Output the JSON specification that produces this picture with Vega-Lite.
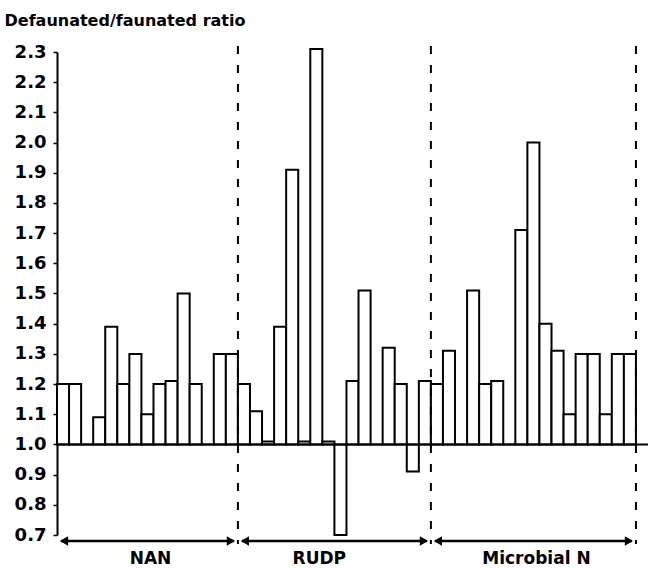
{
  "$schema": "https://vega.github.io/schema/vega-lite/v6.json",
  "width": 591,
  "height": 483,
  "autosize": {"type": "none"},
  "padding": {"left": 57, "top": 52, "right": 0, "bottom": 35},
  "background": "white",
  "config": {"view": {"stroke": null}, "font": "DejaVu Sans", "axisY": {"labelOverlap": false, "tickCount": 17}},
  "datasets": {
    "bars": [
      {"slot": 1, "group": "NAN", "ratio": 1.2},
      {"slot": 2, "group": "NAN", "ratio": 1.2},
      {"slot": 3, "group": "NAN", "ratio": 1.0},
      {"slot": 4, "group": "NAN", "ratio": 1.09},
      {"slot": 5, "group": "NAN", "ratio": 1.39},
      {"slot": 6, "group": "NAN", "ratio": 1.2},
      {"slot": 7, "group": "NAN", "ratio": 1.3},
      {"slot": 8, "group": "NAN", "ratio": 1.1},
      {"slot": 9, "group": "NAN", "ratio": 1.2},
      {"slot": 10, "group": "NAN", "ratio": 1.21},
      {"slot": 11, "group": "NAN", "ratio": 1.5},
      {"slot": 12, "group": "NAN", "ratio": 1.2},
      {"slot": 13, "group": "NAN", "ratio": 1.0},
      {"slot": 14, "group": "NAN", "ratio": 1.3},
      {"slot": 15, "group": "NAN", "ratio": 1.3},
      {"slot": 16, "group": "RUDP", "ratio": 1.2},
      {"slot": 17, "group": "RUDP", "ratio": 1.11},
      {"slot": 18, "group": "RUDP", "ratio": 1.01},
      {"slot": 19, "group": "RUDP", "ratio": 1.39},
      {"slot": 20, "group": "RUDP", "ratio": 1.91},
      {"slot": 21, "group": "RUDP", "ratio": 1.01},
      {"slot": 22, "group": "RUDP", "ratio": 2.31},
      {"slot": 23, "group": "RUDP", "ratio": 1.01},
      {"slot": 24, "group": "RUDP", "ratio": 0.7},
      {"slot": 25, "group": "RUDP", "ratio": 1.21},
      {"slot": 26, "group": "RUDP", "ratio": 1.51},
      {"slot": 27, "group": "RUDP", "ratio": 1.0},
      {"slot": 28, "group": "RUDP", "ratio": 1.32},
      {"slot": 29, "group": "RUDP", "ratio": 1.2},
      {"slot": 30, "group": "RUDP", "ratio": 0.91},
      {"slot": 31, "group": "RUDP", "ratio": 1.21},
      {"slot": 32, "group": "Microbial N", "ratio": 1.2},
      {"slot": 33, "group": "Microbial N", "ratio": 1.31},
      {"slot": 34, "group": "Microbial N", "ratio": 1.0},
      {"slot": 35, "group": "Microbial N", "ratio": 1.51},
      {"slot": 36, "group": "Microbial N", "ratio": 1.2},
      {"slot": 37, "group": "Microbial N", "ratio": 1.21},
      {"slot": 38, "group": "Microbial N", "ratio": 1.0},
      {"slot": 39, "group": "Microbial N", "ratio": 1.71},
      {"slot": 40, "group": "Microbial N", "ratio": 2.0},
      {"slot": 41, "group": "Microbial N", "ratio": 1.4},
      {"slot": 42, "group": "Microbial N", "ratio": 1.31},
      {"slot": 43, "group": "Microbial N", "ratio": 1.1},
      {"slot": 44, "group": "Microbial N", "ratio": 1.3},
      {"slot": 45, "group": "Microbial N", "ratio": 1.3},
      {"slot": 46, "group": "Microbial N", "ratio": 1.1},
      {"slot": 47, "group": "Microbial N", "ratio": 1.3},
      {"slot": 48, "group": "Microbial N", "ratio": 1.3}
    ],
    "groups": [
      {"group": "NAN", "start": 1, "end": 15, "mid": 8},
      {"group": "RUDP", "start": 16, "end": 31, "mid": 22},
      {"group": "Microbial N", "start": 32, "end": 48, "mid": 40}
    ]
  },
  "layer": [
    {
      "data": {"name": "bars"},
      "mark": {"type": "bar", "fill": "white", "stroke": "black", "strokeWidth": 2},
      "encoding": {
        "x": {
          "field": "slot",
          "type": "ordinal",
          "axis": null,
          "scale": {
            "domain": [1,2,3,4,5,6,7,8,9,10,11,12,13,14,15,16,17,18,19,20,21,22,23,24,25,26,27,28,29,30,31,32,33,34,35,36,37,38,39,40,41,42,43,44,45,46,47,48,49],
            "paddingInner": 0,
            "paddingOuter": 0
          }
        },
        "y": {
          "field": "ratio",
          "type": "quantitative",
          "scale": {"domain": [0.7, 2.3], "nice": false, "zero": false},
          "axis": {
            "title": "Defaunated/faunated ratio",
            "titleAngle": 0,
            "titleAlign": "left",
            "titleBaseline": "middle",
            "titleX": -53,
            "titleY": -32,
            "titleFont": "DejaVu Sans",
            "titleFontSize": 16,
            "titleFontWeight": "bold",
            "titleColor": "black",
            "values": [0.7,0.8,0.9,1.0,1.1,1.2,1.3,1.4,1.5,1.6,1.7,1.8,1.9,2.0,2.1,2.2,2.3],
            "tickCount": 17,
            "format": ".1f",
            "labelOverlap": false,
            "labelFlush": false,
            "grid": false,
            "domainColor": "black",
            "domainWidth": 2,
            "tickColor": "black",
            "tickWidth": 1.5,
            "tickSize": 4,
            "labelPadding": 7,
            "labelFont": "DejaVu Sans",
            "labelFontSize": 18,
            "labelFontWeight": "bold",
            "labelColor": "black"
          }
        },
        "y2": {"datum": 1}
      }
    },
    {
      "data": {"values": [{}]},
      "mark": {"type": "rule", "stroke": "black", "strokeWidth": 2},
      "encoding": {"y": {"datum": 1}}
    },
    {
      "data": {"name": "groups"},
      "mark": {"type": "rule", "stroke": "black", "strokeWidth": 2, "strokeDash": [8, 11]},
      "encoding": {
        "x": {"field": "end", "type": "ordinal", "bandPosition": 1},
        "y": {"datum": 2.32},
        "y2": {"datum": 0.67}
      }
    },
    {
      "data": {"name": "groups"},
      "mark": {"type": "rule", "stroke": "black", "strokeWidth": 2.5, "xOffset": 4, "x2Offset": -4},
      "encoding": {
        "x": {"field": "start", "type": "ordinal", "bandPosition": 0},
        "x2": {"field": "end", "bandPosition": 1},
        "y": {"datum": 0.68}
      }
    },
    {
      "data": {"name": "groups"},
      "mark": {"type": "point", "shape": "triangle-left", "filled": true, "color": "black", "size": 90, "opacity": 1, "xOffset": 7},
      "encoding": {
        "x": {"field": "start", "type": "ordinal", "bandPosition": 0},
        "y": {"datum": 0.68}
      }
    },
    {
      "data": {"name": "groups"},
      "mark": {"type": "point", "shape": "triangle-right", "filled": true, "color": "black", "size": 90, "opacity": 1, "xOffset": -7},
      "encoding": {
        "x": {"field": "end", "type": "ordinal", "bandPosition": 1},
        "y": {"datum": 0.68}
      }
    },
    {
      "data": {"name": "groups"},
      "mark": {"type": "text", "font": "DejaVu Sans", "fontSize": 17, "fontWeight": "bold", "color": "black", "baseline": "middle", "align": "center"},
      "encoding": {
        "x": {"field": "mid", "type": "ordinal", "bandPosition": 0.75},
        "y": {"datum": 0.62},
        "text": {"field": "group"}
      }
    }
  ]
}
